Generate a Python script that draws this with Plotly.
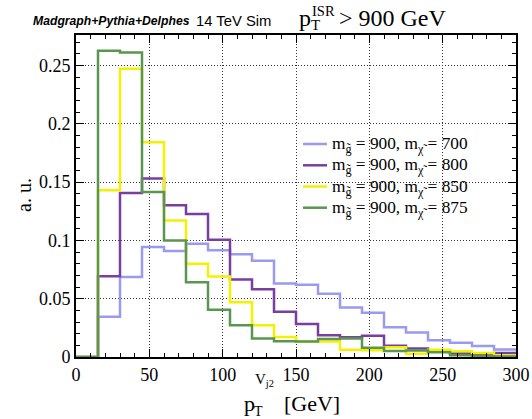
import plotly.graph_objects as go

# Histogram binning (GeV) shared by all samples
bin_edges = [0, 15, 30, 45, 60, 75, 90, 105, 120, 135, 150,
             165, 180, 195, 210, 225, 240, 255, 270, 285, 300]

# Normalised p_T^{V_j2} distributions, one value per bin
m700 = [0, 0.0345, 0.0685, 0.0943, 0.0908, 0.0970, 0.0914, 0.0880, 0.0826, 0.0629,
        0.0620, 0.0543, 0.0424, 0.0380, 0.0256, 0.0210, 0.0144, 0.0122, 0.0095, 0.0065]
m800 = [0, 0.0692, 0.1406, 0.1529, 0.1300, 0.1226, 0.1006, 0.0665, 0.0580, 0.0387,
        0.0283, 0.0187, 0.0170, 0.0183, 0.0096, 0.0073, 0.0055, 0.0030, 0.0020, 0.0035]
m850 = [0, 0.1430, 0.2470, 0.1840, 0.1170, 0.0800, 0.0690, 0.0470, 0.0272, 0.0172,
        0.0133, 0.0133, 0.0063, 0.0058, 0.0083, 0.0027, 0.0063, 0.0049, 0.0035, 0.0012]
m875 = [0, 0.2626, 0.2611, 0.1415, 0.0998, 0.0640, 0.0406, 0.0272, 0.0158, 0.0135,
        0.0132, 0.0155, 0.0158, 0.0080, 0.0052, 0.0055, 0.0040, 0.0015, 0.0006, 0.0005]

series_labels = ["700", "800", "850", "875"]
series_values = [m700, m800, m850, m875]
series_colors = ["#9a9aee", "#7a3e9e", "#f2f200", "#5a9650"]

x_ticks = [0, 50, 100, 150, 200, 250, 300]
y_ticks = [0, 0.05, 0.1, 0.15, 0.2, 0.25]

SERIF = "Liberation Serif, Times New Roman, serif"
SANS = "Liberation Sans, Arial, sans-serif"

W, H = 532, 419
L, R, T, B = 76, 16, 35, 62
PW, PH = W - L - R, H - T - B


def px_x(px):
    return (px - L) / PW


def px_y(py):
    return (H - B - py) / PH


fig = go.Figure()
for lab, vals, col in zip(series_labels, series_values, series_colors):
    fig.add_trace(go.Scatter(
        x=bin_edges, y=vals + [vals[-1]],
        mode="lines", line=dict(color=col, width=2.5, shape="hv"),
        name=lab, showlegend=False,
    ))

axis_common = dict(
    showline=True, linecolor="black", linewidth=2, mirror="allticks",
    ticks="inside", ticklen=8, tickwidth=1, tickcolor="black",
    showgrid=True, gridcolor="#333333", griddash="1px,2px", gridwidth=1,
    zeroline=False, automargin=False,
    tickfont=dict(family=SERIF, size=18, color="black"),
)

fig.update_xaxes(range=[0, 300], tickvals=x_ticks,
                 minor=dict(ticks="inside", ticklen=4, dtick=10, tickcolor="black", showgrid=False),
                 **axis_common)
fig.update_yaxes(range=[0, 0.276], tickvals=y_ticks,
                 minor=dict(ticks="inside", ticklen=4, dtick=0.01, tickcolor="black", showgrid=False),
                 **axis_common)

annotations = [
    dict(text="<b><i>Madgraph+Pythia+Delphes</i></b>", x=px_x(32), y=px_y(21),
         font=dict(family=SANS, size=12.2)),
    dict(text="14 TeV Sim", x=px_x(195), y=px_y(21), font=dict(family=SANS, size=14.8)),
    dict(text="p", x=px_x(298), y=px_y(18), font=dict(family=SERIF, size=24)),
    dict(text="T", x=px_x(310), y=px_y(25), font=dict(family=SERIF, size=15)),
    dict(text="ISR", x=px_x(311), y=px_y(11), font=dict(family=SERIF, size=14.5)),
    dict(text="> 900 GeV", x=px_x(338), y=px_y(18), font=dict(family=SERIF, size=24)),
    dict(text="p", x=px_x(243), y=px_y(404), font=dict(family=SERIF, size=22)),
    dict(text="T", x=px_x(253), y=px_y(411), font=dict(family=SERIF, size=14)),
    dict(text="V<sub>j2</sub>", x=px_x(254), y=px_y(380), font=dict(family=SERIF, size=15)),
    dict(text="[GeV]", x=px_x(283), y=px_y(403), font=dict(family=SERIF, size=22)),
    dict(text="a. u.", x=px_x(24), y=px_y(195), xanchor="center", textangle=-90,
         font=dict(family=SERIF, size=20)),
]

# Legend: coloured swatch lines with their labels
legend_rows = [144, 165.3, 186.5, 207.7]
shapes = []
for row_y, lab, col in zip(legend_rows, series_labels, series_colors):
    shapes.append(dict(type="line", xref="paper", yref="paper",
                       x0=px_x(303), x1=px_x(327), y0=px_y(row_y), y1=px_y(row_y),
                       line=dict(color=col, width=2.5)))
    annotations.append(dict(
        text="m<sub>g\u0303</sub> = 900, m<sub>\u03c7\u0303</sub> = " + lab,
        x=px_x(331), y=px_y(row_y + 1), font=dict(family=SERIF, size=17.3)))

for a in annotations:
    a.setdefault("xanchor", "left")
    a.update(xref="paper", yref="paper", yanchor="middle",
             showarrow=False, borderpad=0)
    a["font"]["color"] = "black"

fig.update_layout(
    width=W, height=H,
    margin=dict(l=L, r=R, t=T, b=B, pad=0),
    paper_bgcolor="white", plot_bgcolor="white",
    annotations=annotations,
    shapes=shapes,
    showlegend=False,
)

fig.write_html("out.html")
